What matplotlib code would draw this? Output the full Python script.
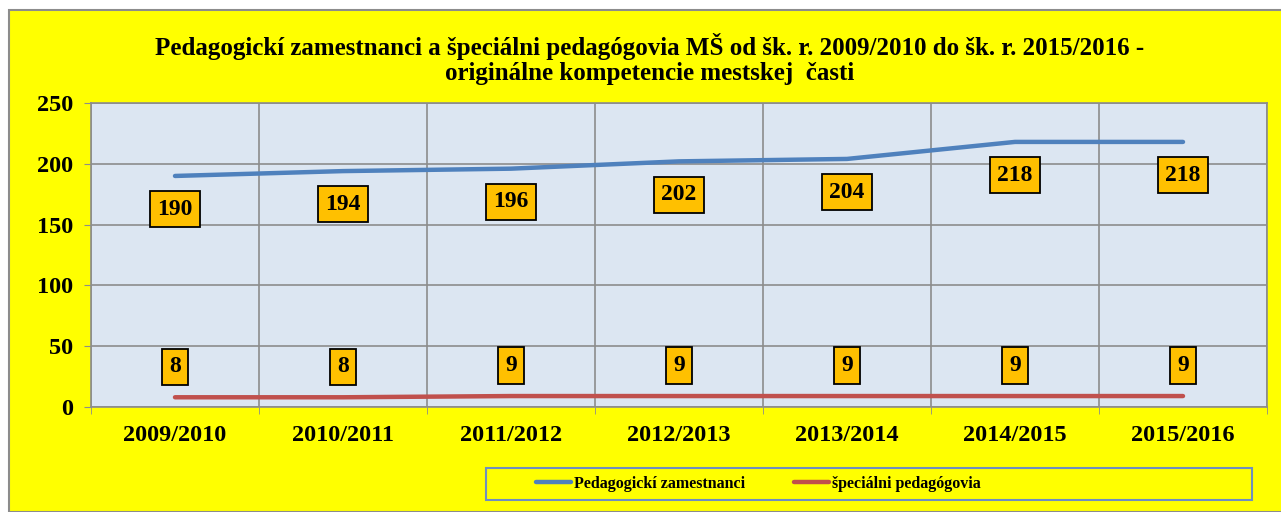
import matplotlib.pyplot as plt
from matplotlib.patches import Rectangle

years = ['2009/2010', '2010/2011', '2011/2012', '2012/2013', '2013/2014', '2014/2015', '2015/2016']
pedagog = [190, 194, 196, 202, 204, 218, 218]
special = [8, 8, 9, 9, 9, 9, 9]

plt.rcParams['font.family'] = 'Liberation Serif'
plt.rcParams['font.weight'] = 'bold'

fig = plt.figure(figsize=(12.81, 5.12), dpi=100)
fig.patch.set_facecolor('white')

# yellow chart area with grey border
fig.patches.append(Rectangle((9 / 1281, 0), 1.0, 1 - 10 / 512, transform=fig.transFigure,
                             facecolor='#FFFF00', edgecolor='#8C8C8C', lw=1.5, zorder=-10))

ax = fig.add_axes([91 / 1281, 105 / 512, 1176 / 1281, 304 / 512])
ax.set_zorder(1)
ax.set_facecolor('#DCE6F2')

x = list(range(len(years)))
ax.plot(x, pedagog, color='#4F81BD', lw=3.2, solid_capstyle='round', label='Pedagogickí zamestnanci')
ax.plot(x, special, color='#C0504D', lw=3.2, solid_capstyle='round', label='špeciálni pedagógovia')

box = dict(boxstyle='square,pad=0.32', facecolor='#FFC000', edgecolor='black', lw=1.3)
for xi, v in zip(x, pedagog):
    ax.annotate(str(v), (xi, v), xytext=(0, -24), textcoords='offset points',
                ha='center', va='center', fontsize=17, fontweight='bold', bbox=box)
for xi, v in zip(x, special):
    ax.annotate(str(v), (xi, v), xytext=(0, 22), textcoords='offset points',
                ha='center', va='center', fontsize=17, fontweight='bold', bbox=box)

ax.set_xlim(-0.5, len(years) - 0.5)
ax.set_ylim(0, 250)
ax.set_yticks(range(0, 251, 50))
ax.set_xticks(x)
ax.set_xticklabels(years)
ax.set_xticks([i - 0.5 for i in range(len(years) + 1)], minor=True)
ax.tick_params(axis='x', which='major', length=0, pad=13, labelsize=17.5)
ax.tick_params(axis='x', which='minor', length=5, color='#8C8C8C')
ax.tick_params(axis='y', length=5, color='#8C8C8C', labelsize=17.5, pad=8)
ax.grid(True, axis='y', color='#8C8C8C', lw=1.2)
ax.grid(True, axis='x', which='minor', color='#8C8C8C', lw=1.2)
ax.set_axisbelow(True)
for s in ax.spines.values():
    s.set_color('#8C8C8C')
    s.set_linewidth(1.2)

fig.text(0.507, 0.885, 'Pedagogickí zamestnanci a špeciálni pedagógovia MŠ od šk. r. 2009/2010 do šk. r. 2015/2016 -\n'
         'originálne kompetencie mestskej  časti', ha='center', va='center', fontsize=18,
         fontweight='bold', linespacing=1.15)

# legend frame
fig.patches.append(Rectangle((486 / 1281, 1 - 500 / 512), 766 / 1281, 32 / 512, transform=fig.transFigure,
                             facecolor='none', edgecolor='#6F8FC0', lw=1.5))
fig.legend(loc='center', bbox_to_anchor=(0.592, 1 - 484 / 512), ncol=2, frameon=False,
           handlelength=2.2, handletextpad=0.15, columnspacing=3.1,
           prop={'family': 'Liberation Serif', 'weight': 'bold', 'size': 11.5})

fig.savefig('out.png', dpi=100)
